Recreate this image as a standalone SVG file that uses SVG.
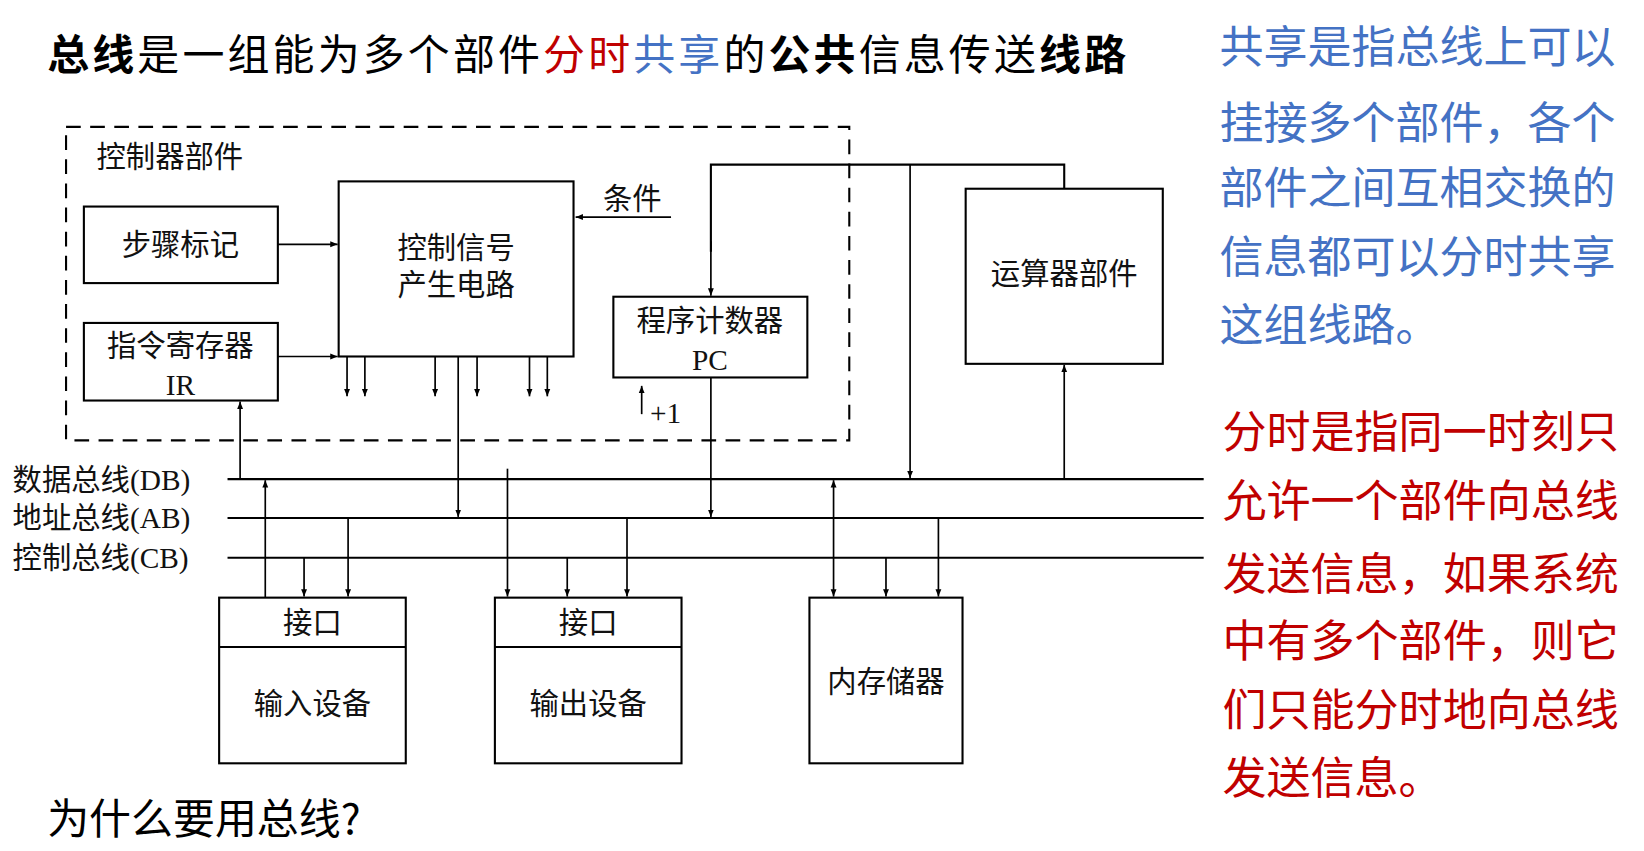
<svg xmlns="http://www.w3.org/2000/svg" width="1644" height="851" viewBox="0 0 1644 851">
<defs>
<marker id="ah" viewBox="0 0 10 10" refX="10" refY="5" markerWidth="7" markerHeight="10" markerUnits="userSpaceOnUse" orient="auto-start-reverse"><path d="M0,1 L10,5 L0,9 z" fill="#000"/></marker>
<style>
.b{fill:#fff;stroke:#000;stroke-width:2}
.l{stroke:#000;stroke-width:2;fill:none}
.a{stroke:#000;stroke-width:1.6;fill:none;marker-end:url(#ah)}
.d{stroke:#000;stroke-width:1.6;fill:none;marker-end:url(#ah);marker-start:url(#ah)}
.t{font-family:"Liberation Serif","Noto Sans CJK SC",serif;font-size:28px;fill:#111}
.bus{font-family:"Liberation Serif","Noto Sans CJK SC",serif;font-size:28px;fill:#111}
.h{font-family:"Noto Sans CJK SC",sans-serif;font-size:40px;fill:#000}
.r{font-family:"Noto Sans CJK SC",sans-serif;font-size:42px}
</style>
</defs>
<rect width="1644" height="851" fill="#fff"/>
<g transform="scale(1.0485)">
<text class="h" x="45" y="67" letter-spacing="3"><tspan font-weight="bold">总线</tspan>是一组能为多个部件<tspan fill="#c00000">分时</tspan><tspan fill="#4472c4">共享</tspan>的<tspan font-weight="bold">公共</tspan>信息传送<tspan font-weight="bold">线路</tspan></text>
<g id="notes" class="r">
<text x="1163" y="60" fill="#4472c4">共享是指总线上可以</text>
<text x="1163" y="133" fill="#4472c4">挂接多个部件，各个</text>
<text x="1163" y="195" fill="#4472c4">部件之间互相交换的</text>
<text x="1163" y="260" fill="#4472c4">信息都可以分时共享</text>
<text x="1163" y="325" fill="#4472c4">这组线路。</text>
<text x="1166" y="427" fill="#c00000">分时是指同一时刻只</text>
<text x="1166" y="493" fill="#c00000">允许一个部件向总线</text>
<text x="1166" y="563" fill="#c00000">发送信息，如果系统</text>
<text x="1166" y="627" fill="#c00000">中有多个部件，则它</text>
<text x="1166" y="692" fill="#c00000">们只能分时地向总线</text>
<text x="1166" y="757" fill="#c00000">发送信息。</text>
</g>
<text class="h" x="45" y="795" font-size="38">为什么要用总线?</text>

<g id="controller">
<rect x="63" y="121" width="747" height="299" fill="none" stroke="#000" stroke-width="2" stroke-dasharray="14,9"/>
<text class="t" x="92" y="159">控制器部件</text>
</g>
<g id="step"><rect class="b" x="80" y="197" width="185" height="73"/><text class="t" x="172" y="243" text-anchor="middle">步骤标记</text></g>
<g id="ir"><rect class="b" x="80" y="308" width="185" height="74"/><text class="t" x="172" y="340" text-anchor="middle">指令寄存器</text><text class="t" x="172" y="377" text-anchor="middle">IR</text></g>
<g id="ctrl"><rect class="b" x="323" y="173" width="224" height="167"/><text class="t" x="435" y="246" text-anchor="middle">控制信号</text><text class="t" x="435" y="281" text-anchor="middle">产生电路</text></g>
<g id="pc"><rect class="b" x="585" y="283" width="185" height="77"/><text class="t" x="677" y="316" text-anchor="middle">程序计数器</text><text class="t" x="677" y="353" text-anchor="middle">PC</text></g>
<g id="alu"><rect class="b" x="921" y="180" width="188" height="167"/><text class="t" x="1015" y="271" text-anchor="middle">运算器部件</text></g>
<g id="in"><rect class="b" x="209" y="570" width="178" height="158"/><line class="l" x1="209" y1="617" x2="387" y2="617"/><text class="t" x="298" y="604" text-anchor="middle">接口</text><text class="t" x="298" y="681" text-anchor="middle">输入设备</text></g>
<g id="out"><rect class="b" x="472" y="570" width="178" height="158"/><line class="l" x1="472" y1="617" x2="650" y2="617"/><text class="t" x="561" y="604" text-anchor="middle">接口</text><text class="t" x="561" y="681" text-anchor="middle">输出设备</text></g>
<g id="mem"><rect class="b" x="772" y="570" width="146" height="158"/><text class="t" x="845" y="660" text-anchor="middle">内存储器</text></g>
<g id="buses">
<line class="l" x1="217" y1="457" x2="1148" y2="457"/>
<line class="l" x1="217" y1="494" x2="1148" y2="494"/>
<line class="l" x1="217" y1="532" x2="1148" y2="532"/>
<text class="bus" x="12" y="467">数据总线(DB)</text>
<text class="bus" x="12" y="504">地址总线(AB)</text>
<text class="bus" x="12" y="542">控制总线(CB)</text>
</g>
<g id="connectors">
<line class="a" x1="265" y1="233" x2="322" y2="233"/>
<line class="a" x1="265" y1="340" x2="322" y2="340"/>
<line class="a" x1="640" y1="207" x2="549" y2="207"/>
<text class="t" x="575" y="199">条件</text>
<line class="a" x1="331" y1="340" x2="331" y2="378"/>
<line class="a" x1="348" y1="340" x2="348" y2="378"/>
<line class="a" x1="415" y1="340" x2="415" y2="378"/>
<line class="a" x1="455" y1="340" x2="455" y2="378"/>
<line class="a" x1="505" y1="340" x2="505" y2="378"/>
<line class="a" x1="522" y1="340" x2="522" y2="378"/>
<line class="a" x1="437" y1="340" x2="437" y2="493"/>
<line class="a" x1="229" y1="457" x2="229" y2="383"/>
<line class="a" x1="253" y1="570" x2="253" y2="458"/>
<line class="a" x1="290" y1="532" x2="290" y2="569"/>
<line class="a" x1="332" y1="494" x2="332" y2="569"/>
<line class="a" x1="484" y1="447" x2="484" y2="569"/>
<line class="a" x1="541" y1="532" x2="541" y2="569"/>
<line class="a" x1="598" y1="494" x2="598" y2="569"/>
<polyline class="l" points="1015,180 1015,157 678,157 678,240"/>
<line class="a" x1="678" y1="230" x2="678" y2="282"/>
<line class="a" x1="868" y1="157" x2="868" y2="456"/>
<line class="a" x1="678" y1="360" x2="678" y2="493"/>
<line class="a" x1="612" y1="395" x2="612" y2="368"/>
<text class="t" x="620" y="403" font-size="26">+1</text>
<line class="a" x1="1015" y1="457" x2="1015" y2="348"/>
<line class="d" x1="795" y1="458" x2="795" y2="569"/>
<line class="a" x1="845" y1="532" x2="845" y2="569"/>
<line class="a" x1="895" y1="494" x2="895" y2="569"/>
</g>
</g>
</svg>
